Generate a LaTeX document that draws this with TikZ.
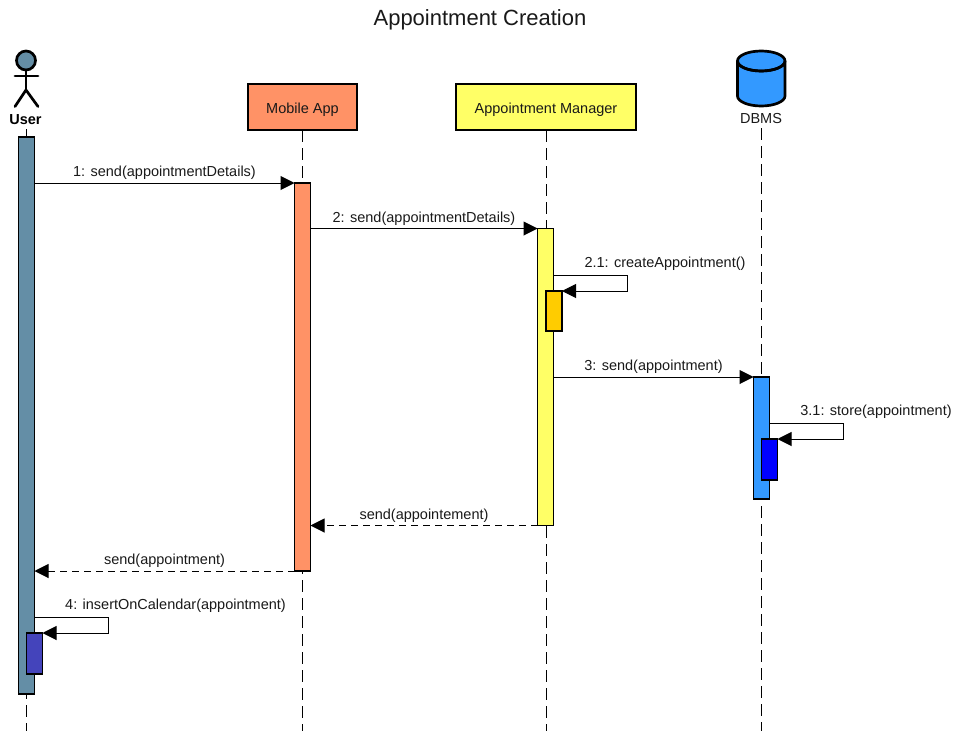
\documentclass[tikz,border=0pt]{standalone}
\usepackage{fontspec}
\setmainfont{Liberation Sans}
\usepackage{tikz}
\usetikzlibrary{arrows.meta}
\definecolor{userBlue}{HTML}{648EA6}
\definecolor{appCoral}{HTML}{FF9266}
\definecolor{mgrYellow}{HTML}{FFFF66}
\definecolor{mgrAmber}{HTML}{FFCC00}
\definecolor{dbBlue}{HTML}{3399FF}
\definecolor{dbDeep}{HTML}{0000FF}
\definecolor{userIndigo}{HTML}{4444BB}
\colorlet{labelInk}{black!90}

\begin{document}
\begin{tikzpicture}[
  x=1pt,
  y=-1pt,
  every node/.style={
    inner sep=0pt,
    outer sep=0pt,
    font=\fontsize{14.5}{16}\selectfont,
    text=labelInk,
  },
  participant/.style={
    draw=black,
    line width=2.6pt,
    minimum height=46pt,
    text height=12pt,
    text depth=0pt,
  },
  activation/.style={
    draw=black,
    line width=1.4pt,
    minimum width=16pt,
    anchor=north west,
  },
  lifeline/.style={
    draw=black,
    line width=1pt,
    dash pattern=on 12pt off 6pt,
  },
  message/.style={
    draw=black,
    line width=1pt,
    -{Triangle[length=14pt,width=14pt]},
  },
  reply/.style={
    message,
    dash pattern=on 7pt off 5pt,
  },
  figure/.style={
    draw=black,
    line width=2.7pt,
    line cap=round,
  }
]
\useasboundingbox (0,0) rectangle (959,731);
\node (title) at (480,19.5) {\fontsize{22}{26}\selectfont Appointment Creation};

% participants
\node[participant,fill=appCoral,minimum width=109pt] (app) at (302.5,107) {Mobile App};
\node[participant,fill=mgrYellow,minimum width=180pt] (mgr) at (546,107) {Appointment Manager};
\node (dbLabel) at (761,119) {DBMS};
\node (userLabel) at (25.5,120) {\bfseries\color{black}User};

% actor
\coordinate (userNeck) at (26,70);
\coordinate (userHip) at (26,90);
\draw[figure,fill=userBlue] (26,60.5) circle (9.5);
\draw[figure] (userNeck) -- (userHip);
\draw[figure] (15,76) -- (38,76);
\draw[figure] (15,106.5) -- (userHip) -- (38,106.5);

% database
\draw[figure,fill=dbBlue] (737.5,61) -- (737.5,96) arc[start angle=180,end angle=360,x radius=23.75,y radius=-10] -- (785,61) arc[start angle=0,end angle=360,x radius=23.75,y radius=-10];
\draw[figure] (737.5,61) arc[start angle=180,end angle=360,x radius=23.75,y radius=-10];

% lifelines
\coordinate (userTop) at (26,129);
\coordinate (dbTop) at (761,128);
\coordinate (userEnd) at (26,731);
\coordinate (appEnd) at (302.5,731);
\coordinate (mgrEnd) at (546,731);
\coordinate (dbEnd) at (761,731);
\draw[lifeline] (userTop) -- (userEnd);
\draw[lifeline] (app.south) -- (appEnd);
\draw[lifeline] (mgr.south) -- (mgrEnd);
\draw[lifeline] (dbTop) -- (dbEnd);

% activations
\node[activation,fill=userBlue,minimum height=557pt] (userBar) at (18.5,137) {};
\node[activation,fill=appCoral,minimum height=388pt] (appBar) at (294.5,183) {};
\node[activation,fill=mgrYellow,minimum height=297pt] (mgrBar) at (537.5,228.5) {};
\node[activation,fill=mgrAmber,minimum height=40pt] (createBar) at (546,291) {};
\node[activation,fill=dbBlue,minimum height=122pt] (dbBar) at (753.5,377) {};
\node[activation,fill=dbDeep,minimum height=41pt] (storeBar) at (761.5,439) {};
\node[activation,fill=userIndigo,minimum height=41pt] (calBar) at (26.5,633) {};

% messages
\draw[message] (userBar.east |- appBar.north) -- (appBar.north west) node[midway,above=3pt] {1: send(appointmentDetails)};
\draw[message] (appBar.east |- mgrBar.north) -- (mgrBar.north west) node[midway,above=3pt] {2: send(appointmentDetails)};
\draw[message] (mgrBar.east |- 0,275) -| (627.5,291) -- (createBar.north east);
\node[anchor=south] (createLabel) at (665,271) {2.1: createAppointment()};
\draw[message] (mgrBar.east |- dbBar.north) -- (dbBar.north west) node[midway,above=3pt] {3: send(appointment)};
\draw[message] (dbBar.east |- 0,423) -| (843.5,439) -- (storeBar.north east);
\node[anchor=south] (storeLabel) at (876,419) {3.1: store(appointment)};
\draw[reply] (mgrBar.south west) -- (appBar.east |- mgrBar.south) node[midway,above=3pt] {send(appointement)};
\draw[reply] (appBar.south west) -- (userBar.east |- appBar.south) node[midway,above=3pt] {send(appointment)};
\draw[message] (userBar.east |- 0,617) -| (108,633) -- (calBar.north east);
\node[anchor=south] (calLabel) at (175.5,613) {4: insertOnCalendar(appointment)};
\end{tikzpicture}
\end{document}
